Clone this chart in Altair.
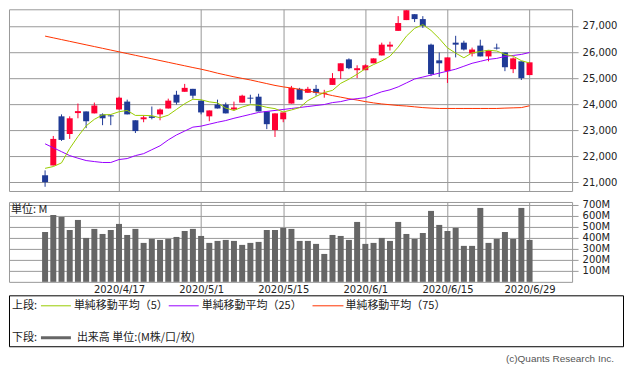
import altair as alt
import pandas as pd

# ---------------- data ----------------
dates = [
    "2020/4/3", "2020/4/6", "2020/4/7", "2020/4/8", "2020/4/9", "2020/4/13", "2020/4/14",
    "2020/4/15", "2020/4/16", "2020/4/17", "2020/4/20", "2020/4/21", "2020/4/22", "2020/4/23",
    "2020/4/24", "2020/4/27", "2020/4/28", "2020/4/29", "2020/4/30", "2020/5/1", "2020/5/4",
    "2020/5/5", "2020/5/6", "2020/5/7", "2020/5/8", "2020/5/11", "2020/5/12", "2020/5/13",
    "2020/5/14", "2020/5/15", "2020/5/18", "2020/5/19", "2020/5/20", "2020/5/21", "2020/5/22",
    "2020/5/26", "2020/5/27", "2020/5/28", "2020/5/29", "2020/6/1", "2020/6/2", "2020/6/3",
    "2020/6/4", "2020/6/5", "2020/6/8", "2020/6/9", "2020/6/10", "2020/6/11", "2020/6/12",
    "2020/6/15", "2020/6/16", "2020/6/17", "2020/6/18", "2020/6/19", "2020/6/22", "2020/6/23",
    "2020/6/24", "2020/6/25", "2020/6/26", "2020/6/29",
]
opens = [
    21275, 21651, 23535, 22857, 23660, 23723, 23648, 23610, 23572, 23798,
    24100, 23384, 23422, 23535, 23610, 23836, 24363, 24476, 24589, 24137,
    23535, 23987, 23987, 23798, 24062, 24250, 24288, 23723, 23008, 23422,
    24025, 24589, 24439, 24589, 24401, 24740, 25267, 25719, 25305, 25305,
    25569, 25870, 26209, 26812, 27226, 27452, 27264, 26284, 25682, 25267,
    26360, 26360, 25945, 26247, 25832, 26171, 25983, 25343, 25644, 25117,
]
highs = [
    21463, 22782, 23610, 23535, 24025, 23723, 24062, 23648, 23590, 24288,
    24175, 23384, 23572, 23911, 23836, 24213, 24514, 24778, 24589, 24137,
    23761, 24175, 24062, 24100, 24363, 24363, 24401, 23723, 23648, 23685,
    24702, 24627, 24665, 24740, 24552, 25192, 25569, 25757, 25493, 25531,
    25757, 26360, 26397, 27377, 27603, 27452, 27377, 26322, 25983, 25795,
    26623, 26435, 26171, 26473, 26058, 26322, 25983, 25795, 25644, 25606,
]
lows = [
    20834, 21651, 22593, 22669, 23460, 23083, 23648, 23196, 23196, 23798,
    23610, 22895, 23309, 23420, 23384, 23836, 23987, 24476, 24213, 23610,
    23347, 23836, 23648, 23761, 24062, 24025, 23723, 23045, 22744, 23309,
    24025, 24175, 24439, 24326, 24250, 24740, 24966, 25343, 25000, 25305,
    25569, 25870, 26058, 26812, 27226, 27150, 26925, 25079, 25041, 24815,
    25795, 26058, 25832, 25832, 25644, 26096, 25267, 25192, 24928, 25117,
]
closes = [
    21011, 22669, 22631, 23460, 23735, 23347, 23949, 23460, 23535, 24250,
    23610, 22970, 23497, 23475, 23798, 24137, 24062, 24627, 24326, 23685,
    23761, 23836, 23648, 23874, 24326, 24213, 23723, 23234, 23648, 23685,
    24627, 24175, 24589, 24439, 24439, 25000, 25569, 25380, 25380, 25493,
    25757, 26284, 26284, 27113, 27603, 27264, 27000, 25154, 25569, 25795,
    26284, 26096, 26096, 25832, 26058, 26134, 25418, 25757, 25000, 25606,
]
ma5 = [
    21540, 21610, 21750, 22300, 22760, 23170, 23420, 23590, 23605, 23710,
    23760, 23570, 23570, 23560, 23480, 23580, 23800, 24020, 24190, 24170,
    24090, 24050, 23850, 23760, 23890, 23980, 23960, 23880, 23830, 23700,
    23780, 23870, 24140, 24300, 24450, 24530, 24800, 24960, 25150, 25360,
    25520, 25660, 25840, 26190, 26610, 26910, 27050, 26830, 26520, 26160,
    25960, 25780, 25970, 26020, 26070, 26040, 25910, 25840, 25670, 25580,
]
ma25 = [
    22481, 22330, 22180, 22029, 21930, 21840, 21800, 21765, 21765, 21878,
    21916, 22029, 22104, 22255, 22405, 22631, 22820, 22970, 23121, 23159,
    23234, 23309, 23373, 23460, 23535, 23610, 23685, 23723, 23761, 23798,
    23836, 23874, 23912, 23950, 23987, 24062, 24100, 24175, 24213, 24250,
    24363, 24476, 24552, 24665, 24816, 24966, 25041, 25117, 25192, 25267,
    25343, 25456, 25569, 25644, 25720, 25757, 25832, 25870, 25908, 25983,
]
ma75 = [
    26612, 26545, 26478, 26411, 26344, 26277, 26210, 26143, 26076, 26009,
    25942, 25875, 25808, 25741, 25674, 25607, 25540, 25473, 25406, 25343,
    25270, 25190, 25120, 25050, 24990, 24930, 24860, 24790, 24720, 24665,
    24620, 24570, 24510, 24450, 24400, 24330, 24270, 24210, 24160, 24100,
    24050, 24010, 23980, 23950, 23930, 23900, 23870, 23850, 23837, 23837,
    23837, 23837, 23837, 23837, 23837, 23837, 23850, 23860, 23870, 23940,
]
volumes = [
    452, 606, 588, 470, 561, 398, 480, 434, 470, 525,
    425, 480, 353, 389, 380, 389, 407, 461, 480, 416,
    353, 371, 380, 371, 335, 353, 362, 470, 470, 489,
    480, 371, 371, 344, 253, 425, 416, 380, 543, 344,
    353, 398, 371, 543, 434, 389, 443, 643, 516, 461,
    489, 326, 326, 670, 353, 389, 452, 389, 670, 380,
]
tick_idx = [9, 19, 29, 39, 49, 59]
tick_labels = ["2020/4/17", "2020/5/1", "2020/5/15", "2020/6/1", "2020/6/15", "2020/6/29"]
price_ticks = [21000, 22000, 23000, 24000, 25000, 26000, 27000]
vol_ticks = [100, 200, 300, 400, 500, 600, 700]
legend_labels = ["単純移動平均（5）", "単純移動平均（25）", "単純移動平均（75）"]
volume_label = "出来高 単位:(M株/口/枚)"
unit_label = "単位: M"
upper_label = "上段:"
lower_label = "下段:"
copyright_label = "(c)Quants Research Inc."

# ---------------- styles ----------------
RED = "#ff0033"
BLUE = "#1f3a96"
C5 = "#99cc00"
C25 = "#9900ff"
C75 = "#ff3300"
VOLC = "#666666"
GRID = "#999999"
TXT = "#222222"
JP = "Noto Sans CJK JP"
NUM = "DejaVu Sans"

df = pd.DataFrame({
    "i": list(range(len(dates))), "date": dates,
    "open": opens, "high": highs, "low": lows, "close": closes,
    "ma5": ma5, "ma25": ma25, "ma75": ma75, "vol": volumes,
})
df["dir"] = ["up" if c >= o else "down" for o, c in zip(opens, closes)]

x_scale = alt.Scale(domain=[-3.786, 63.57], nice=False, zero=False)
lab_arr = "[" + ",".join("'%s'" % t for t in tick_labels) + "]"
idx_arr = "[" + ",".join(str(t) for t in tick_idx) + "]"
label_expr = lab_arr + "[indexof(" + idx_arr + ", datum.value)]"

color = alt.Color("dir:N", scale=alt.Scale(domain=["up", "down"], range=[RED, BLUE]), legend=None)
y_scale = alt.Scale(domain=[20672, 27640], nice=False, zero=False)
y_axis = alt.Axis(orient="right", values=price_ticks, labelExpr="format(datum.value, ',d')",
                  title=None, domain=False, tickSize=6, labelPadding=4, labelFontSize=10,
                  labelFont=NUM, labelColor=TXT, grid=True)

x_top = alt.X("i:Q", scale=x_scale, axis=alt.Axis(values=tick_idx, labels=False, ticks=False,
                                                  domain=False, grid=True, title=None))
base = alt.Chart(df)
tip = ["date", "open", "high", "low", "close"]

wick = base.mark_rule(strokeWidth=1).encode(
    x=x_top, y=alt.Y("low:Q", scale=y_scale, axis=y_axis), y2="high:Q", color=color, tooltip=tip)
body = base.mark_bar(size=6).encode(
    x=x_top, y=alt.Y("open:Q", scale=y_scale, axis=y_axis), y2="close:Q", color=color, tooltip=tip)
l5 = base.mark_line(color=C5, strokeWidth=1).encode(
    x=x_top, y=alt.Y("ma5:Q", scale=y_scale, axis=y_axis))
l25 = base.mark_line(color=C25, strokeWidth=1).encode(
    x=x_top, y=alt.Y("ma25:Q", scale=y_scale, axis=y_axis))
l75 = base.mark_line(color=C75, strokeWidth=1).encode(
    x=x_top, y=alt.Y("ma75:Q", scale=y_scale, axis=y_axis))

top = alt.layer(wick, body, l75, l25, l5).properties(width=564, height=182)

vol = base.mark_bar(size=6, color=VOLC).encode(
    x=alt.X("i:Q", scale=x_scale, axis=alt.Axis(
        values=tick_idx, labelExpr=label_expr, ticks=False, domain=False, grid=True, title=None,
        labelFlush=False, labelPadding=3, labelFontSize=10, labelFont=NUM, labelColor=TXT)),
    y=alt.Y("vol:Q", scale=alt.Scale(domain=[0, 724], nice=False), axis=alt.Axis(
        orient="right", values=vol_ticks, labelExpr="datum.value + 'M'", title=None, domain=False,
        tickSize=6, labelPadding=4, labelFontSize=10, labelFont=NUM, labelColor=TXT, grid=True)),
    tooltip=["date", "vol"],
)


def one(val):
    return alt.Chart(pd.DataFrame({"t": [val]}))


def text(val, x, y, size=11, font=JP, color=TXT, align="left"):
    return one(val).mark_text(align=align, baseline="middle", fontSize=size, font=font,
                              color=color).encode(text="t:N", x=alt.value(x), y=alt.value(y))


def hline(x1, x2, y, c, w=1):
    return one(0).mark_rule(color=c, strokeWidth=w).encode(
        x=alt.value(x1), x2=alt.value(x2), y=alt.value(y))


box = one(0).mark_rect(fillOpacity=0, stroke="#000000", strokeWidth=1).encode(
    x=alt.value(0.5), x2=alt.value(615.5), y=alt.value(94), y2=alt.value(145))

row1 = 104
row2 = 136
deco = [
    text(unit_label, 2, 8),
    box,
    text(upper_label, 3, row1),
    hline(32, 62, row1, C5), text(legend_labels[0], 65, row1),
    hline(160, 190, row1, C25), text(legend_labels[1], 193, row1),
    hline(304, 335, row1, C75), text(legend_labels[2], 337, row1),
    text(lower_label, 3, row2),
    hline(32, 62, row2, VOLC, 3), text(volume_label, 68, row2),
    text(copyright_label, 606, 157, size=10, font="Liberation Sans", color="#555555", align="right"),
]

bottom = alt.layer(vol, *deco).properties(width=564, height=80)

chart = alt.vconcat(top, bottom, spacing=7).properties(
    padding={"left": 0, "top": 0, "right": 0, "bottom": 0},
    background="white",
).configure_view(stroke=GRID, strokeWidth=1).configure_axis(
    gridColor=GRID, gridWidth=1, tickColor=GRID, tickWidth=1
)

chart.save("out.html", embed_options={"renderer": "svg", "actions": False})
